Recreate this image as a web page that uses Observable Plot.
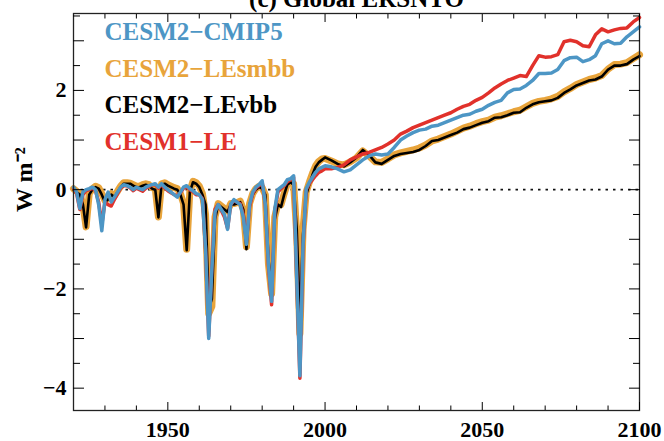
<!DOCTYPE html>
<html><head><meta charset="utf-8">
<script src="https://cdn.jsdelivr.net/npm/d3@7"></script>
<script src="https://cdn.jsdelivr.net/npm/@observablehq/plot@0.6"></script>
<style>
body{margin:0;background:#fff}
svg{display:block}
</style>
</head><body><div id="chart"></div>
<script>
// years: annual 1920-1999, every 2 years 2000-2100
const years = d3.range(1920, 2000).concat(d3.range(2000, 2101, 2));
const seriesNames = ["CESM2\u2212CMIP5", "CESM2\u2212LEsmbb", "CESM2\u2212LEvbb", "CESM1\u2212LE"];
const seriesColors = ["#4d96c5", "#e8a43b", "#000000", "#e1312b"];

const cmip5 = [
  0.05,-0.05,-0.38,-0.05,0.0,0.02,0.05,0.0,-0.3,-0.83,
  -0.2,-0.05,-0.25,-0.15,-0.05,0.05,0.1,0.08,0.05,0.0,
  0.05,0.02,0.0,0.05,0.08,0.1,0.12,0.05,0.12,0.05,
  0.0,-0.05,-0.1,-0.15,-0.05,0.05,0.08,0.02,-0.02,-0.08,
  -0.1,-0.2,-1.2,-3.0,-1.6,-0.45,-0.3,-0.4,-0.5,-0.8,
  -0.3,-0.2,-0.25,-0.3,-0.55,-1.1,-0.3,-0.05,0.05,0.1,
  0.18,-0.3,-1.5,-2.25,-0.4,0.0,0.05,0.1,0.2,0.22,
  0.28,-1.8,-3.75,-1.1,0.02,0.15,0.25,0.35,0.42,0.45,
  0.48,0.46,0.42,0.36,0.4,0.5,0.6,0.68,0.72,0.7,0.72,
  0.85,1.0,1.08,1.15,1.2,1.22,1.28,1.3,1.35,1.4,
  1.45,1.5,1.52,1.58,1.62,1.7,1.76,1.8,1.95,2.02,
  2.03,2.1,2.2,2.34,2.34,2.35,2.42,2.6,2.66,2.67,
  2.58,2.62,2.7,2.94,3.0,2.94,2.95,3.08,3.18,3.28
];
const lesmbb = [
  0.02,-0.03,-0.08,-0.3,-0.75,-0.08,0.02,0.07,0.04,-0.08,
  -0.22,-0.18,-0.08,-0.12,-0.03,0.07,0.14,0.14,0.13,0.1,
  0.07,0.07,0.1,0.12,0.1,0.04,0.02,-0.55,0.12,0.14,
  0.1,0.07,0.04,0.02,-0.08,-0.28,-1.2,-0.03,0.17,0.14,
  0.07,-0.08,-0.5,-2.5,-2.35,-0.55,-0.28,-0.33,-0.38,-0.43,
  -0.28,-0.28,-0.26,-0.23,-0.4,-1.15,-0.28,-0.08,0.02,0.07,
  0.04,-0.1,-1.5,-2.1,-0.55,-0.28,-0.3,-0.08,0.12,0.17,
  0.12,-0.9,-2.9,-0.8,-0.05,0.15,0.33,0.48,0.57,0.62,
  0.63,0.58,0.52,0.5,0.56,0.64,0.78,0.68,0.56,0.55,0.62,
  0.7,0.74,0.77,0.8,0.84,0.9,0.98,1.02,1.07,1.12,
  1.18,1.24,1.28,1.33,1.37,1.4,1.46,1.49,1.53,1.57,
  1.6,1.67,1.74,1.78,1.8,1.83,1.88,1.97,2.04,2.12,
  2.17,2.22,2.25,2.3,2.43,2.52,2.53,2.56,2.64,2.72
];
const levbb = [
  0.0,-0.05,-0.1,-0.3,-0.76,-0.1,0.0,0.05,0.02,-0.1,
  -0.25,-0.2,-0.1,-0.15,-0.05,0.05,0.12,0.12,0.12,0.08,
  0.05,0.05,0.08,0.1,0.08,0.02,0.0,-0.56,0.1,0.12,
  0.08,0.05,0.02,0.0,-0.1,-0.3,-1.22,-0.05,0.15,0.12,
  0.05,-0.1,-0.3,-2.4,-2.2,-0.6,-0.3,-0.35,-0.4,-0.45,
  -0.3,-0.3,-0.28,-0.25,-0.4,-1.2,-0.3,-0.1,0.0,0.05,
  0.02,-0.1,-1.4,-2.0,-0.6,-0.3,-0.35,-0.1,0.1,0.15,
  0.1,-0.8,-2.6,-0.9,-0.1,0.1,0.3,0.46,0.55,0.6,
  0.65,0.59,0.52,0.47,0.55,0.65,0.8,0.7,0.55,0.52,0.6,
  0.68,0.72,0.74,0.76,0.8,0.88,0.98,1.0,1.05,1.1,
  1.15,1.22,1.25,1.3,1.35,1.38,1.45,1.46,1.5,1.55,
  1.56,1.65,1.72,1.76,1.78,1.8,1.85,1.95,2.02,2.1,
  2.15,2.2,2.22,2.28,2.42,2.5,2.5,2.53,2.62,2.69
];
const cesm1le = [
  0.03,-0.08,-0.4,-0.1,-0.02,0.0,0.03,-0.02,-0.25,-0.7,
  -0.25,-0.3,-0.33,-0.2,-0.08,0.03,0.08,0.08,0.04,-0.02,
  0.03,0.0,-0.03,0.03,0.06,0.1,0.1,0.03,0.1,0.03,
  -0.02,-0.06,-0.1,-0.12,-0.06,0.03,0.06,0.0,-0.04,-0.1,
  -0.1,-0.18,-1.2,-2.95,-1.55,-0.4,-0.3,-0.42,-0.55,-0.78,
  -0.3,-0.22,-0.25,-0.28,-0.5,-1.05,-0.35,-0.08,0.03,0.08,
  0.15,-0.3,-1.55,-2.32,-0.45,-0.05,0.02,0.08,0.16,0.2,
  0.25,-1.8,-3.8,-1.15,0.0,0.12,0.2,0.28,0.35,0.38,
  0.42,0.42,0.45,0.5,0.6,0.66,0.72,0.75,0.8,0.85,0.92,
  1.0,1.12,1.18,1.25,1.3,1.35,1.4,1.45,1.5,1.55,
  1.62,1.68,1.72,1.8,1.86,1.95,2.05,2.13,2.2,2.25,
  2.3,2.28,2.5,2.7,2.67,2.68,2.72,2.98,3.01,2.98,
  2.9,2.88,3.12,3.24,3.18,3.22,3.25,3.26,3.38,3.47
];

const xMajor = [1950, 2000, 2050, 2100];
const xMinor = [1930, 1940, 1960, 1970, 1980, 1990, 2010, 2020, 2030, 2040, 2060, 2070, 2080, 2090];
const yLabelTicks = [-4, -2, 0, 2];
const yInteger = [-4, -3, -2, -1, 0, 1, 2, 3];
const yHalf = [-3.5, -2.5, -1.5, -0.5, 0.5, 1.5, 2.5, 3.5];
const titleText = "(c) Global ERSNTO";
const yLabel = "W m\u207B\u00B2";

const allValues = [cmip5, lesmbb, levbb, cesm1le];
const table = seriesNames.map((name, i) => years.map((year, j) => ({series: name, year, value: allValues[i][j]})));

const serif = "Liberation Serif";
const widths = [3.5, 7, 2.6, 3.5];
const drawOrder = [1, 2, 3, 0];
const txt = {fontFamily: serif, fontWeight: "bold"};

const chart = Plot.plot({
  width: 664, height: 441,
  marginLeft: 73, marginRight: 25, marginTop: 13, marginBottom: 31,
  x: {domain: [1920, 2100], label: null},
  y: {domain: [-4.45, 3.55], label: null},
  style: {background: "white", color: "black", fontFamily: serif, fontWeight: "bold"},
  marks: [
    Plot.ruleY([0], {stroke: "#111", strokeWidth: 1.6, strokeDasharray: "2.5,5"}),
    ...drawOrder.map(i => Plot.line(table[i], {x: "year", y: "value", stroke: seriesColors[i], strokeWidth: widths[i], strokeLinejoin: "round", strokeLinecap: "round"})),
    Plot.frame({stroke: "#222", strokeWidth: 1.3}),
    // inward ticks
    Plot.axisX(xMajor, {anchor: "bottom", tickSize: -8, tickFormat: () => "", label: null}),
    Plot.axisX(xMinor, {anchor: "bottom", tickSize: -4.5, tickFormat: () => "", label: null}),
    Plot.axisX(xMajor, {anchor: "top", tickSize: -8, tickFormat: () => "", label: null}),
    Plot.axisX(xMinor, {anchor: "top", tickSize: -4.5, tickFormat: () => "", label: null}),
    Plot.axisY(yInteger, {anchor: "left", tickSize: -11, tickFormat: () => "", label: null}),
    Plot.axisY(yHalf, {anchor: "left", tickSize: -7, tickFormat: () => "", label: null}),
    Plot.axisY(yInteger, {anchor: "right", tickSize: -11, tickFormat: () => "", label: null}),
    Plot.axisY(yHalf, {anchor: "right", tickSize: -7, tickFormat: () => "", label: null}),
    // tick labels
    Plot.axisX(xMajor, {anchor: "bottom", tickSize: 0, tickPadding: 11, fontSize: 22, ...txt, tickFormat: d => String(d), label: null}),
    Plot.axisY(yLabelTicks, {anchor: "left", tickSize: 0, tickPadding: 7, fontSize: 22, ...txt, tickFormat: d => d < 0 ? "\u2212" + Math.abs(d) : String(d), label: null}),
    // y label
    Plot.text([yLabel], {frameAnchor: "left", dx: -49, rotate: -90, fontSize: 24, ...txt, fill: "black"}),
    // title (mostly cut off at the top, as in the reference)
    Plot.text([titleText], {frameAnchor: "top", dy: -7, lineAnchor: "bottom", fontSize: 25, ...txt, fill: "black"}),
    // legend
    ...seriesNames.map((name, i) => Plot.text([name], {frameAnchor: "top-left", textAnchor: "start", lineAnchor: "bottom", dx: 31, dy: 26.5 + i * 36.5, fontSize: 25, ...txt, fill: seriesColors[i]}))
  ]
});
document.getElementById("chart").appendChild(chart);
</script>
</body></html>
